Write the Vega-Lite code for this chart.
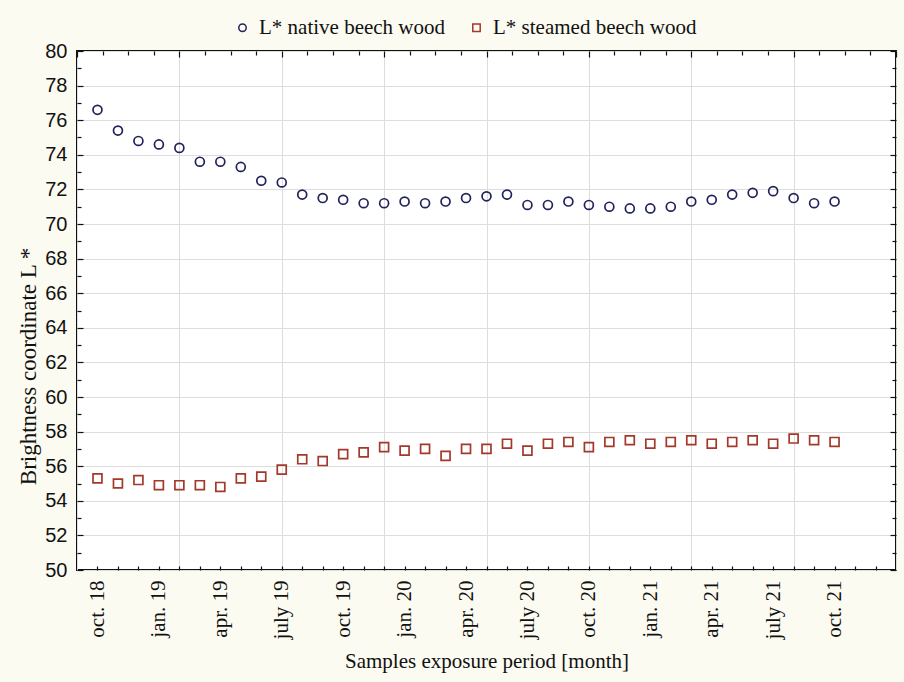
{
  "$schema": "https://vega.github.io/schema/vega-lite/v6.json",
  "width": 819,
  "height": 519,
  "autosize": "none",
  "padding": {"left": 77, "top": 51, "right": 8, "bottom": 112},
  "background": "#fcfbf1",
  "config": {
    "view": {"fill": "white", "stroke": "#111111", "strokeWidth": 2},
    "axis": {"domain": false, "gridColor": "#dddddd", "gridWidth": 1, "tickColor": "#111111", "tickWidth": 1.2, "labelColor": "#111111", "titleColor": "#111111", "titleFontWeight": "normal"}
  },
  "data": {
    "values": [
      {"idx": 0, "series": "L* native beech wood", "L": 76.6},
      {"idx": 1, "series": "L* native beech wood", "L": 75.4},
      {"idx": 2, "series": "L* native beech wood", "L": 74.8},
      {"idx": 3, "series": "L* native beech wood", "L": 74.6},
      {"idx": 4, "series": "L* native beech wood", "L": 74.4},
      {"idx": 5, "series": "L* native beech wood", "L": 73.6},
      {"idx": 6, "series": "L* native beech wood", "L": 73.6},
      {"idx": 7, "series": "L* native beech wood", "L": 73.3},
      {"idx": 8, "series": "L* native beech wood", "L": 72.5},
      {"idx": 9, "series": "L* native beech wood", "L": 72.4},
      {"idx": 10, "series": "L* native beech wood", "L": 71.7},
      {"idx": 11, "series": "L* native beech wood", "L": 71.5},
      {"idx": 12, "series": "L* native beech wood", "L": 71.4},
      {"idx": 13, "series": "L* native beech wood", "L": 71.2},
      {"idx": 14, "series": "L* native beech wood", "L": 71.2},
      {"idx": 15, "series": "L* native beech wood", "L": 71.3},
      {"idx": 16, "series": "L* native beech wood", "L": 71.2},
      {"idx": 17, "series": "L* native beech wood", "L": 71.3},
      {"idx": 18, "series": "L* native beech wood", "L": 71.5},
      {"idx": 19, "series": "L* native beech wood", "L": 71.6},
      {"idx": 20, "series": "L* native beech wood", "L": 71.7},
      {"idx": 21, "series": "L* native beech wood", "L": 71.1},
      {"idx": 22, "series": "L* native beech wood", "L": 71.1},
      {"idx": 23, "series": "L* native beech wood", "L": 71.3},
      {"idx": 24, "series": "L* native beech wood", "L": 71.1},
      {"idx": 25, "series": "L* native beech wood", "L": 71.0},
      {"idx": 26, "series": "L* native beech wood", "L": 70.9},
      {"idx": 27, "series": "L* native beech wood", "L": 70.9},
      {"idx": 28, "series": "L* native beech wood", "L": 71.0},
      {"idx": 29, "series": "L* native beech wood", "L": 71.3},
      {"idx": 30, "series": "L* native beech wood", "L": 71.4},
      {"idx": 31, "series": "L* native beech wood", "L": 71.7},
      {"idx": 32, "series": "L* native beech wood", "L": 71.8},
      {"idx": 33, "series": "L* native beech wood", "L": 71.9},
      {"idx": 34, "series": "L* native beech wood", "L": 71.5},
      {"idx": 35, "series": "L* native beech wood", "L": 71.2},
      {"idx": 36, "series": "L* native beech wood", "L": 71.3},
      {"idx": 0, "series": "L* steamed beech wood", "L": 55.3},
      {"idx": 1, "series": "L* steamed beech wood", "L": 55.0},
      {"idx": 2, "series": "L* steamed beech wood", "L": 55.2},
      {"idx": 3, "series": "L* steamed beech wood", "L": 54.9},
      {"idx": 4, "series": "L* steamed beech wood", "L": 54.9},
      {"idx": 5, "series": "L* steamed beech wood", "L": 54.9},
      {"idx": 6, "series": "L* steamed beech wood", "L": 54.8},
      {"idx": 7, "series": "L* steamed beech wood", "L": 55.3},
      {"idx": 8, "series": "L* steamed beech wood", "L": 55.4},
      {"idx": 9, "series": "L* steamed beech wood", "L": 55.8},
      {"idx": 10, "series": "L* steamed beech wood", "L": 56.4},
      {"idx": 11, "series": "L* steamed beech wood", "L": 56.3},
      {"idx": 12, "series": "L* steamed beech wood", "L": 56.7},
      {"idx": 13, "series": "L* steamed beech wood", "L": 56.8},
      {"idx": 14, "series": "L* steamed beech wood", "L": 57.1},
      {"idx": 15, "series": "L* steamed beech wood", "L": 56.9},
      {"idx": 16, "series": "L* steamed beech wood", "L": 57.0},
      {"idx": 17, "series": "L* steamed beech wood", "L": 56.6},
      {"idx": 18, "series": "L* steamed beech wood", "L": 57.0},
      {"idx": 19, "series": "L* steamed beech wood", "L": 57.0},
      {"idx": 20, "series": "L* steamed beech wood", "L": 57.3},
      {"idx": 21, "series": "L* steamed beech wood", "L": 56.9},
      {"idx": 22, "series": "L* steamed beech wood", "L": 57.3},
      {"idx": 23, "series": "L* steamed beech wood", "L": 57.4},
      {"idx": 24, "series": "L* steamed beech wood", "L": 57.1},
      {"idx": 25, "series": "L* steamed beech wood", "L": 57.4},
      {"idx": 26, "series": "L* steamed beech wood", "L": 57.5},
      {"idx": 27, "series": "L* steamed beech wood", "L": 57.3},
      {"idx": 28, "series": "L* steamed beech wood", "L": 57.4},
      {"idx": 29, "series": "L* steamed beech wood", "L": 57.5},
      {"idx": 30, "series": "L* steamed beech wood", "L": 57.3},
      {"idx": 31, "series": "L* steamed beech wood", "L": 57.4},
      {"idx": 32, "series": "L* steamed beech wood", "L": 57.5},
      {"idx": 33, "series": "L* steamed beech wood", "L": 57.3},
      {"idx": 34, "series": "L* steamed beech wood", "L": 57.6},
      {"idx": 35, "series": "L* steamed beech wood", "L": 57.5},
      {"idx": 36, "series": "L* steamed beech wood", "L": 57.4}
    ]
  },
  "layer": [
    {
      "mark": {"type": "point", "opacity": 0},
      "encoding": {
        "x": {
          "field": "idx", "type": "quantitative",
          "scale": {"domain": [-1, 39], "nice": false, "zero": false},
          "axis": {
            "orient": "top", "title": null, "labels": false,
            "values": [-1, 0.25, 1.5, 2.75, 4, 5.25, 6.5, 7.75, 9, 10.25, 11.5, 12.75, 14, 15.25, 16.5, 17.75, 19, 20.25, 21.5, 22.75, 24, 25.25, 26.5, 27.75, 29, 30.25, 31.5, 32.75, 34, 35.25, 36.5, 37.75, 39],
            "grid": true,
            "gridOpacity": {"condition": {"test": "abs((datum.value + 1) % 5) < 0.01", "value": 1}, "value": 0},
            "tickSize": {"condition": {"test": "abs((datum.value + 1) % 5) < 0.01", "value": -6}, "value": -4}
          }
        },
        "y": {
          "field": "L", "type": "quantitative",
          "scale": {"domain": [50, 80], "nice": false, "zero": false},
          "axis": {
            "orient": "right", "title": null, "labels": false, "grid": false,
            "values": [50, 51, 52, 53, 54, 55, 56, 57, 58, 59, 60, 61, 62, 63, 64, 65, 66, 67, 68, 69, 70, 71, 72, 73, 74, 75, 76, 77, 78, 79, 80],
            "tickSize": {"condition": {"test": "datum.value % 2 == 0", "value": -6}, "value": -4}
          }
        }
      }
    },
    {
      "mark": {"type": "point", "filled": false, "opacity": 1, "strokeWidth": 1.7, "size": 80},
      "encoding": {
        "x": {
          "field": "idx", "type": "quantitative",
          "scale": {"domain": [-1, 39], "nice": false, "zero": false},
          "axis": {
            "orient": "bottom", "title": "Samples exposure period [month]", "grid": false,
            "values": [0, 1, 2, 3, 4, 5, 6, 7, 8, 9, 10, 11, 12, 13, 14, 15, 16, 17, 18, 19, 20, 21, 22, 23, 24, 25, 26, 27, 28, 29, 30, 31, 32, 33, 34, 35, 36, 37, 38],
            "labelExpr": "datum.value % 3 == 0 && datum.value <= 36 ? ['oct. 18','jan. 19','apr. 19','july 19','oct. 19','jan. 20','apr. 20','july 20','oct. 20','jan. 21','apr. 21','july 21','oct. 21'][datum.value / 3] : ''",
            "labelAngle": -90, "labelFont": "Liberation Serif", "labelFontSize": 21,
            "labelPadding": 14, "labelOverlap": false, "labelFlush": false, "labelBound": false,
            "tickSize": -4,
            "titleFont": "Liberation Serif", "titleFontSize": 21, "titlePadding": 12
          }
        },
        "y": {
          "field": "L", "type": "quantitative",
          "scale": {"domain": [50, 80], "nice": false, "zero": false},
          "axis": {
            "orient": "left", "title": "Brightness coordinate L *",
            "values": [50, 51, 52, 53, 54, 55, 56, 57, 58, 59, 60, 61, 62, 63, 64, 65, 66, 67, 68, 69, 70, 71, 72, 73, 74, 75, 76, 77, 78, 79, 80],
            "labelExpr": "datum.value % 2 == 0 ? datum.label : ''",
            "grid": true,
            "gridOpacity": {"condition": {"test": "datum.value % 2 == 0", "value": 1}, "value": 0},
            "tickSize": {"condition": {"test": "datum.value % 2 == 0", "value": -6}, "value": -4},
            "labelFont": "Liberation Sans", "labelFontSize": 20, "labelPadding": 16,
            "labelOverlap": false, "labelFlush": false, "labelBound": false,
            "titleFont": "Liberation Serif", "titleFontSize": 23, "titlePadding": 4, "titleY": 315
          }
        },
        "color": {
          "field": "series", "type": "nominal",
          "scale": {"domain": ["L* native beech wood", "L* steamed beech wood"], "range": ["#22225c", "#a3392a"]},
          "legend": {"orient": "none", "legendX": 155, "legendY": -34, "direction": "horizontal", "title": null, "labelFont": "Liberation Serif", "labelFontSize": 21, "labelColor": "#111111", "symbolSize": 55, "symbolStrokeWidth": 1.5, "columnPadding": 20, "labelOffset": 6, "labelLimit": 0}
        },
        "shape": {
          "field": "series", "type": "nominal",
          "scale": {"domain": ["L* native beech wood", "L* steamed beech wood"], "range": ["circle", "square"]},
          "legend": {"orient": "none", "legendX": 155, "legendY": -34, "direction": "horizontal", "title": null, "labelFont": "Liberation Serif", "labelFontSize": 21, "labelColor": "#111111", "symbolSize": 55, "symbolStrokeWidth": 1.5, "columnPadding": 20, "labelOffset": 6, "labelLimit": 0}
        }
      }
    }
  ],
  "resolve": {"axis": {"x": "independent", "y": "independent"}}
}
